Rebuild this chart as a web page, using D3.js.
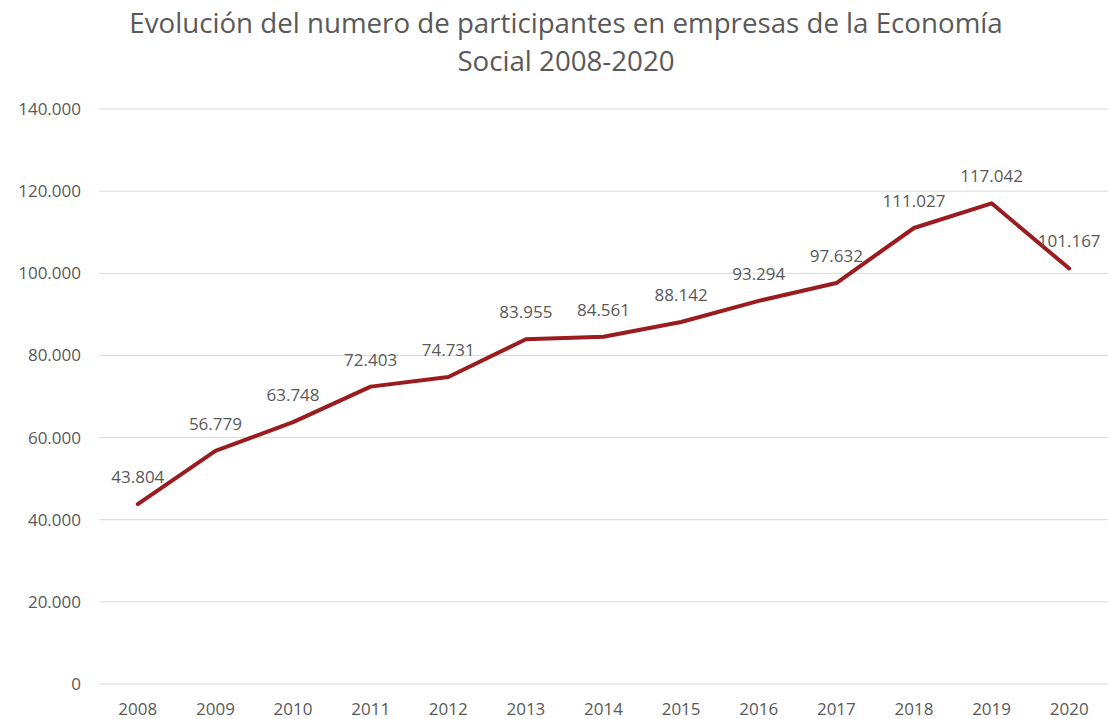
<!DOCTYPE html>
<html>
<head>
<meta charset="utf-8">
<script src="https://cdn.jsdelivr.net/npm/d3@7"></script>
<style>
  body { margin: 0; background: #fff; }
  text { font-family: "Open Sans", "Noto Sans", sans-serif; fill: #595959; }
</style>
</head>
<body>
<div id="chart"></div>
<script>
const years = ["2008", "2009", "2010", "2011", "2012", "2013", "2014", "2015", "2016", "2017", "2018", "2019", "2020"];
const participantes = [43804, 56779, 63748, 72403, 74731, 83955, 84561, 88142, 93294, 97632, 111027, 117042, 101167];
const yTicks = [0, 20000, 40000, 60000, 80000, 100000, 120000, 140000];
const titleLines = ["Evolución del numero de participantes en empresas de la Economía", "Social 2008-2020"];

const W = 1108, H = 719;
const margin = { top: 109, right: 0, bottom: 35, left: 99 };
const width = W - margin.left - margin.right;
const height = H - margin.top - margin.bottom;

// separador de miles con punto
const es = d3.formatLocale({ decimal: ",", thousands: ".", grouping: [3], currency: ["", "€"] });
const fmt = es.format(",");

const svg = d3.select("#chart").append("svg")
  .attr("width", W)
  .attr("height", H);

svg.append("g")
  .selectAll("text")
  .data(titleLines)
  .enter()
  .append("text")
  .attr("x", 566)
  .attr("y", (d, i) => 33 + i * 38)
  .attr("text-anchor", "middle")
  .attr("font-size", "27.7px")
  .text(d => d);

const g = svg.append("g").attr("transform", `translate(${margin.left},${margin.top})`);

const x = d3.scaleBand().domain(years).range([0, width]);
const y = d3.scaleLinear().domain([0, 140000]).range([height, 0]);

// grid
g.append("g")
  .selectAll("line")
  .data(yTicks)
  .enter()
  .append("line")
  .attr("x1", 0)
  .attr("x2", width)
  .attr("y1", d => y(d))
  .attr("y2", d => y(d))
  .attr("stroke", "#d9d9d9")
  .attr("stroke-width", 1);

const yAxis = g.append("g")
  .call(d3.axisLeft(y).tickValues(yTicks).tickSize(0).tickPadding(18).tickFormat(d => fmt(d)));
yAxis.select(".domain").remove();
yAxis.selectAll("text").attr("font-size", "17px").attr("fill", "#595959").style("font-family", "'Open Sans', sans-serif");

const xAxis = g.append("g")
  .attr("transform", `translate(0,${height})`)
  .call(d3.axisBottom(x).tickSize(0).tickPadding(19));
xAxis.select(".domain").remove();
xAxis.selectAll("text").attr("font-size", "17px").attr("fill", "#595959").style("font-family", "'Open Sans', sans-serif");

const cx = d => x(d) + x.bandwidth() / 2;

const line = d3.line()
  .x((d, i) => cx(years[i]))
  .y(d => y(d));

g.append("path")
  .datum(participantes)
  .attr("d", line)
  .attr("fill", "none")
  .attr("stroke", "#9b1c1f")
  .attr("stroke-width", 4)
  .attr("stroke-linejoin", "round")
  .attr("stroke-linecap", "round");

g.append("g")
  .selectAll("text")
  .data(participantes)
  .enter()
  .append("text")
  .attr("x", (d, i) => cx(years[i]))
  .attr("y", d => y(d) - 21)
  .attr("text-anchor", "middle")
  .attr("font-size", "17px")
  .text(d => fmt(d));
</script>
</body>
</html>
